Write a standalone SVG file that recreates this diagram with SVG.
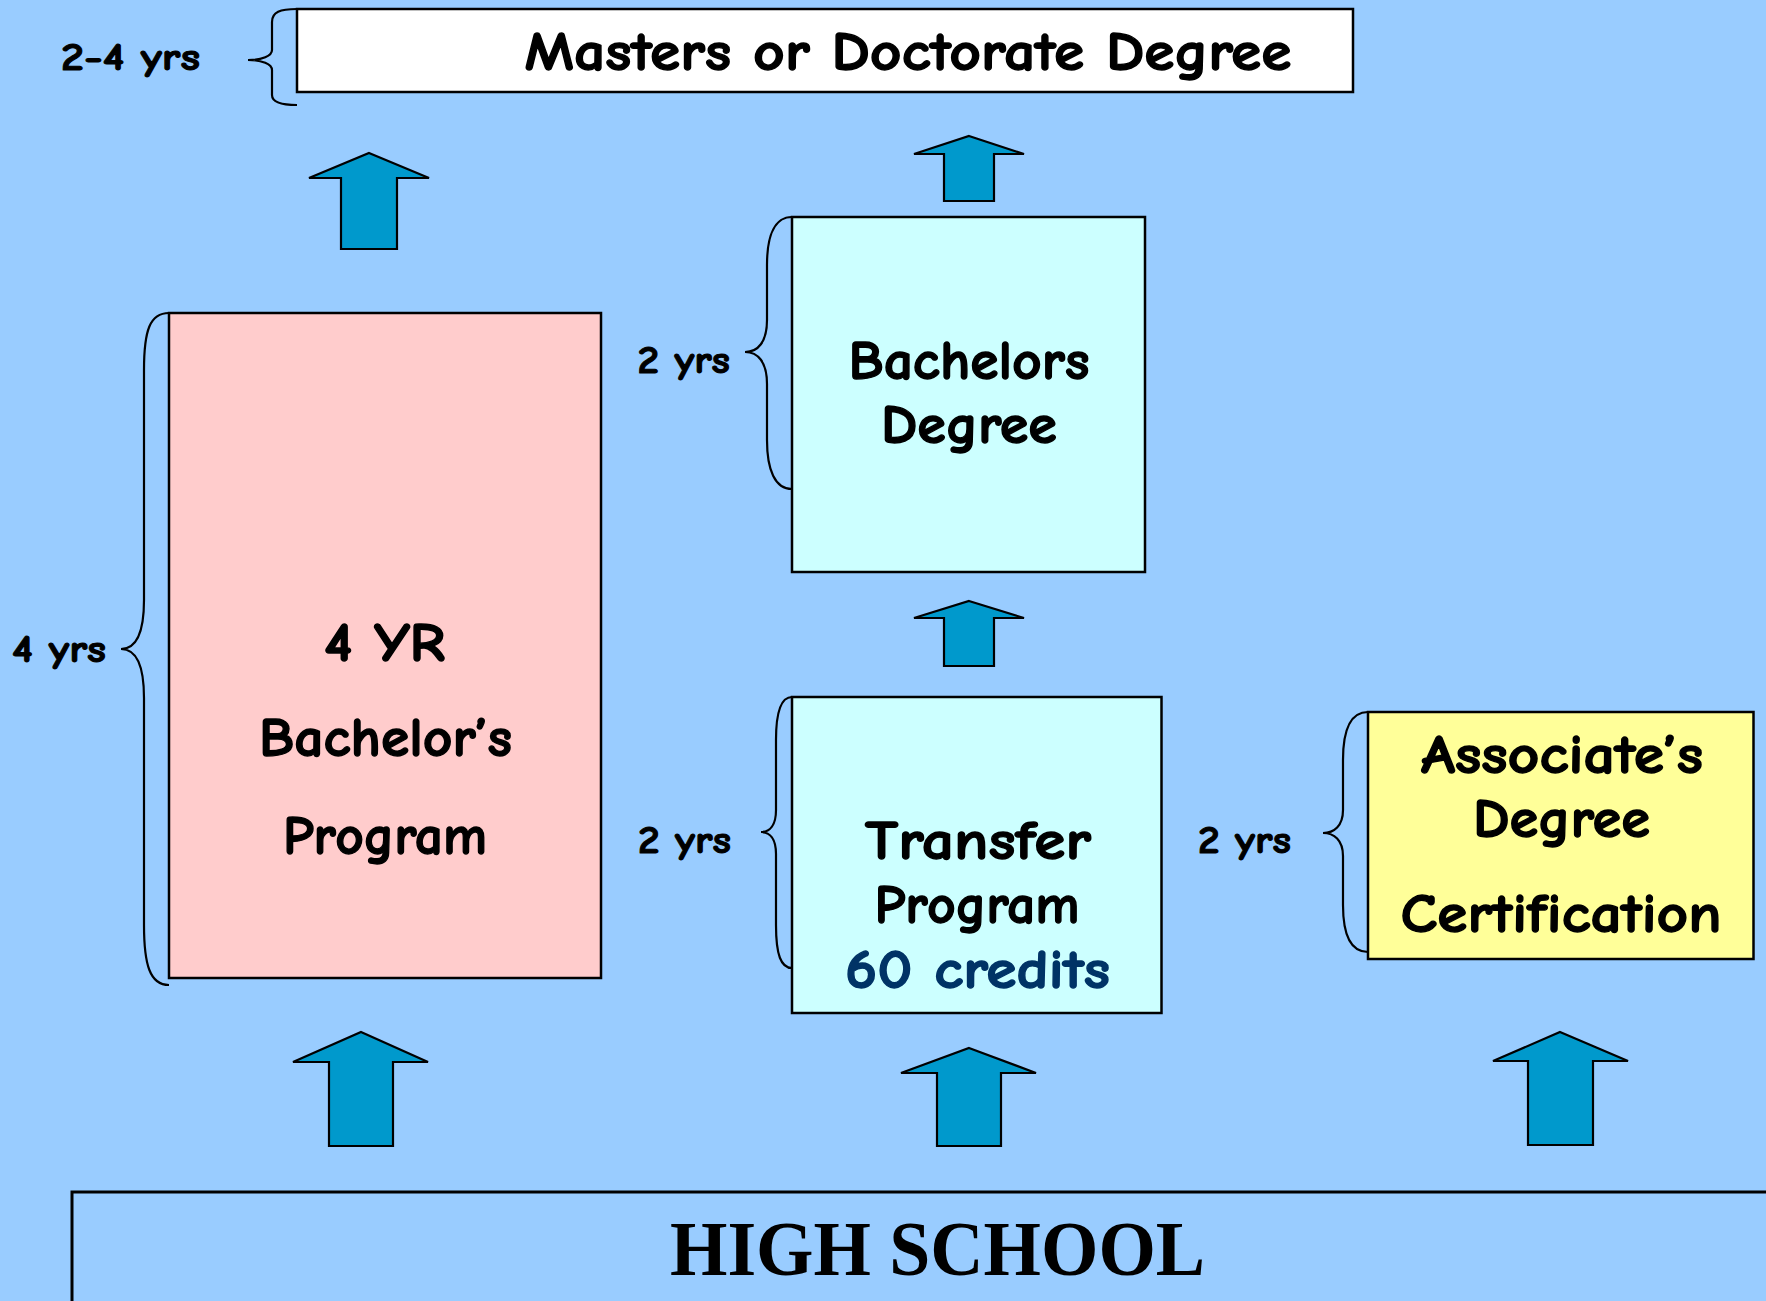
<svg xmlns="http://www.w3.org/2000/svg" width="1766" height="1301" viewBox="0 0 1766 1301">
<style>
.bg{fill:#99CCFF}
.box{stroke:#000;stroke-width:2.5}
.t{font-family:"Comic Sans MS","Comic Neue","Open Sans","DejaVu Sans",sans-serif;font-weight:bold;fill:#000;stroke:#000;stroke-width:1.3;stroke-linejoin:round;text-anchor:middle}
.big{font-size:55px}
.yr{font-size:38px;text-anchor:start;stroke-width:1}
.cr{fill:#003366;stroke:#003366}
.brace{fill:none;stroke:#000;stroke-width:2.2}
.arrow{fill:#0099CC;stroke:#000;stroke-width:2.2;stroke-linejoin:miter}
.hs{font-family:"Liberation Serif","Times New Roman",serif;font-weight:bold;font-size:78px;fill:#000;text-anchor:middle}
</style>
<rect class="bg" x="0" y="0" width="1766" height="1301"/>

<g id="masters">
<rect class="box" x="297" y="9" width="1056" height="83" fill="#FFFFFF"/>
<text class="t big" x="908" y="70" textLength="767" lengthAdjust="spacingAndGlyphs">Masters or Doctorate Degree</text>
</g>

<g id="four-yr">
<rect class="box" x="169" y="313" width="432" height="665" fill="#FFCCCC"/>
<text class="t big" x="384.5" y="661" textLength="121" lengthAdjust="spacingAndGlyphs">4 YR</text>
<text class="t big" x="385.5" y="756" textLength="253" lengthAdjust="spacingAndGlyphs">Bachelor’s</text>
<text class="t big" x="385" y="854" textLength="204" lengthAdjust="spacingAndGlyphs">Program</text>
</g>

<g id="bachelors">
<rect class="box" x="792" y="217" width="353" height="355" fill="#CCFFFF"/>
<text class="t big" x="969" y="379" textLength="241" lengthAdjust="spacingAndGlyphs">Bachelors</text>
<text class="t big" x="969" y="443" textLength="176" lengthAdjust="spacingAndGlyphs">Degree</text>
</g>

<g id="transfer">
<rect class="box" x="792" y="697" width="369.5" height="316" fill="#CCFFFF"/>
<text class="t big" x="978" y="859" textLength="226" lengthAdjust="spacingAndGlyphs">Transfer</text>
<text class="t big" x="977" y="923" textLength="205" lengthAdjust="spacingAndGlyphs">Program</text>
<text class="t big cr" x="977.5" y="988" textLength="265" lengthAdjust="spacingAndGlyphs">60 credits</text>
</g>

<g id="associates">
<rect class="box" x="1368" y="712" width="385.5" height="247" fill="#FFFF99"/>
<text class="t big" x="1562" y="773" textLength="282" lengthAdjust="spacingAndGlyphs">Associate’s</text>
<text class="t big" x="1561.5" y="837" textLength="177" lengthAdjust="spacingAndGlyphs">Degree</text>
<text class="t big" x="1561" y="932" textLength="321" lengthAdjust="spacingAndGlyphs">Certification</text>
</g>

<g id="high-school">
<rect class="box" x="72" y="1192" width="1720" height="150" fill="#99CCFF" style="stroke-width:3"/>
<text class="hs" x="937.5" y="1275" textLength="535" lengthAdjust="spacingAndGlyphs">HIGH SCHOOL</text>
</g>

<g id="durations">
<path class="brace" d="M297,9 C280,9 272,12 272,22 L272,50 C272,56 262,60 248,60 C262,60 272,64 272,70 L272,95 C272,102 280,105 297,105"/>
<text class="t yr" x="61" y="70" textLength="139" lengthAdjust="spacingAndGlyphs">2-4 yrs</text>
<path class="brace" d="M169,313 C150,313 144,330 144,370 L144,600 C144,635 135,649 121,649 C135,649 144,663 144,698 L144,925 C144,965 150,985 169,985"/>
<text class="t yr" x="12" y="662" textLength="94" lengthAdjust="spacingAndGlyphs">4 yrs</text>
<path class="brace" d="M792,217 C775,217 767,235 767,265 L767,320 C767,342 758,352 745,352 C758,352 767,362 767,384 L767,440 C767,470 775,489 792,489"/>
<text class="t yr" x="637.5" y="373" textLength="92.5" lengthAdjust="spacingAndGlyphs">2 yrs</text>
<path class="brace" d="M792,697 C781,697 776,712 776,740 L776,810 C776,825 770,832 761,832 C770,832 776,839 776,854 L776,925 C776,955 781,968 792,968"/>
<text class="t yr" x="638" y="853" textLength="93" lengthAdjust="spacingAndGlyphs">2 yrs</text>
<path class="brace" d="M1368,712 C1351,712 1343,728 1343,760 L1343,810 C1343,826 1334,833 1323,833 C1334,833 1343,840 1343,856 L1343,905 C1343,937 1351,952 1368,952"/>
<text class="t yr" x="1198" y="853" textLength="93" lengthAdjust="spacingAndGlyphs">2 yrs</text>
</g>

<g id="connectors">
<polygon class="arrow" points="369,153 429,178 397,178 397,249 341,249 341,178 309,178"/>
<polygon class="arrow" points="969,136 1024,154 994,154 994,201 944,201 944,154 914,154"/>
<polygon class="arrow" points="969,601 1024,618 994,618 994,666 944,666 944,618 914,618"/>
<polygon class="arrow" points="361,1032 428,1062 393,1062 393,1146 329,1146 329,1062 293,1062"/>
<polygon class="arrow" points="969,1048 1036,1073 1001,1073 1001,1146 937,1146 937,1073 901,1073"/>
<polygon class="arrow" points="1560,1032 1628,1061 1593,1061 1593,1145 1528,1145 1528,1061 1493,1061"/>
</g>
</svg>
